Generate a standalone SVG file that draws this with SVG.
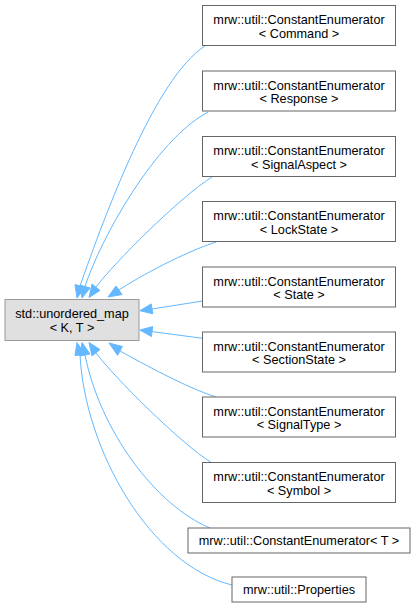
<svg xmlns="http://www.w3.org/2000/svg" width="416" height="608" viewBox="0 0 416 608">
<style>
.n rect{fill:#ffffff;stroke:#666666;stroke-width:1}
.b rect{fill:#e0e0e0;stroke:#999999;stroke-width:1}
text{font-family:"Liberation Sans",Arial,sans-serif;font-size:12.7px;fill:#000000;text-anchor:middle}
.e path{fill:none;stroke:#63b8ff;stroke-width:1}
.e polygon{fill:#63b8ff;stroke:#63b8ff;stroke-width:1}
</style>
<rect x="0" y="0" width="416" height="608" fill="#ffffff"/>
<g class="e" id="edges">
<path d="M205,46 C155,78 105,215 80,286"/>
<polygon points="77,298 75,284.5 85,287.5"/>
<path d="M208,112 C155,140 100,240 85,286.5"/>
<polygon points="82,298 80,285 90,288"/>
<path d="M212,177 C180,197 115,262 96,287"/>
<polygon points="89,297.5 92,284 100,290.5"/>
<path d="M216,242 C185,252 140,276 119,290"/>
<polygon points="108,297 116,286 122,294.5"/>
<path d="M202.5,301 L152,309"/>
<polygon points="140,310.7 151.2,303.9 152.8,313.8"/>
<path d="M202.5,338.3 L152,331.6"/>
<polygon points="140,330 152.7,326.6 151.4,336.6"/>
<path d="M216,397 C185,387 142,363 120,351"/>
<polygon points="109,343 122.4,346.5 117.6,355.3"/>
<path d="M212,463 C180,443 115,378 96,353"/>
<polygon points="89,342.5 100,349.5 92,356"/>
<path d="M210,528 C155,505 100,430 85,355"/>
<polygon points="82,342.5 90,354 80,356"/>
<path d="M232,585 C150,565 85,450 80,355"/>
<polygon points="77,342.5 85,354.5 75,355.5"/>
</g>
<g class="b" id="node_base">
<rect x="5" y="299.5" width="134" height="41"/>
<text x="72" y="318">std::unordered_map</text>
<text x="72" y="332">&lt; K, T &gt;</text>
</g>
<g class="n" id="node_command">
<rect x="202.5" y="5.5" width="193" height="40"/>
<text x="299" y="24">mrw::util::ConstantEnumerator</text>
<text x="299" y="37.5">&lt; Command &gt;</text>
</g>
<g class="n" id="node_response">
<rect x="202.5" y="71" width="193" height="40"/>
<text x="299" y="89.5">mrw::util::ConstantEnumerator</text>
<text x="299" y="103">&lt; Response &gt;</text>
</g>
<g class="n" id="node_signalaspect">
<rect x="202.5" y="136.5" width="193" height="40"/>
<text x="299" y="155">mrw::util::ConstantEnumerator</text>
<text x="299" y="168.5">&lt; SignalAspect &gt;</text>
</g>
<g class="n" id="node_lockstate">
<rect x="202.5" y="201.5" width="193" height="40"/>
<text x="299" y="220">mrw::util::ConstantEnumerator</text>
<text x="299" y="233.5">&lt; LockState &gt;</text>
</g>
<g class="n" id="node_state">
<rect x="202.5" y="267" width="193" height="40"/>
<text x="299" y="285.5">mrw::util::ConstantEnumerator</text>
<text x="299" y="299">&lt; State &gt;</text>
</g>
<g class="n" id="node_sectionstate">
<rect x="202.5" y="332" width="193" height="40"/>
<text x="299" y="350.5">mrw::util::ConstantEnumerator</text>
<text x="299" y="364">&lt; SectionState &gt;</text>
</g>
<g class="n" id="node_signaltype">
<rect x="202.5" y="397" width="193" height="40"/>
<text x="299" y="415.5">mrw::util::ConstantEnumerator</text>
<text x="299" y="429">&lt; SignalType &gt;</text>
</g>
<g class="n" id="node_symbol">
<rect x="202.5" y="462.5" width="193" height="40"/>
<text x="299" y="481">mrw::util::ConstantEnumerator</text>
<text x="299" y="494.5">&lt; Symbol &gt;</text>
</g>
<g class="n" id="node_t">
<rect x="188" y="528" width="222" height="25"/>
<text x="299" y="545">mrw::util::ConstantEnumerator&lt; T &gt;</text>
</g>
<g class="n" id="node_properties">
<rect x="232" y="577" width="134" height="25"/>
<text x="299" y="594">mrw::util::Properties</text>
</g>
</svg>
